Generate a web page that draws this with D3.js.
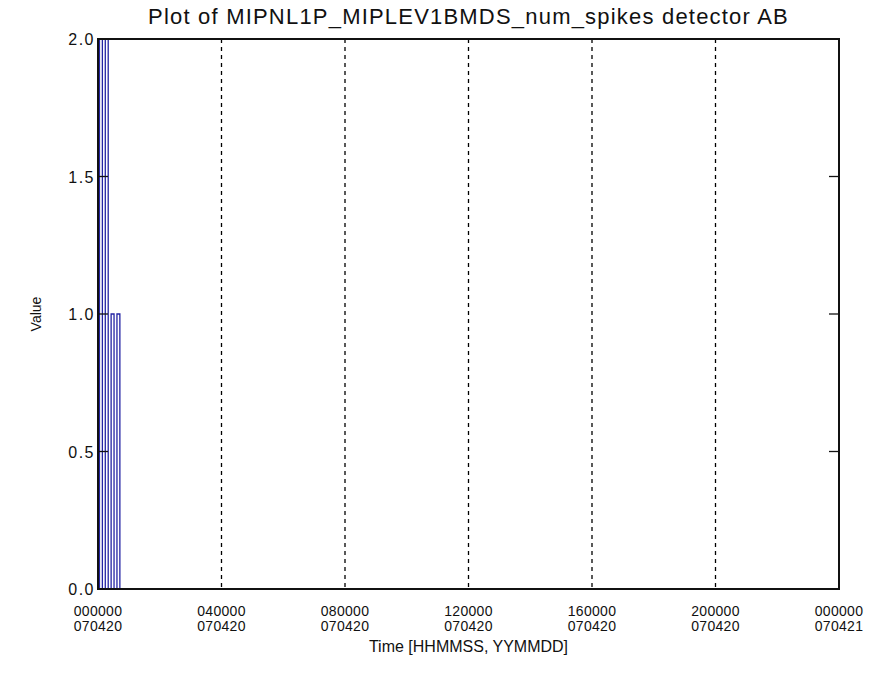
<!DOCTYPE html>
<html>
<head>
<meta charset="utf-8">
<script src="https://cdn.jsdelivr.net/npm/d3@7"></script>
<style>
body { margin: 0; background: #fff; }
text { font-family: "Liberation Sans", Arial, sans-serif; fill: #111; }
</style>
</head>
<body>
<script>
// seconds since 000000 070420, one sample every ~340 s
const times = [0, 340, 680, 1020, 1360, 1700, 2040, 2380, 2720, 3060, 3400]
const values = [0, 2, 0, 2, 0, 1, 0, 1, 0, 0, 0]
const yTicks = [0, 0.5, 1.0, 1.5, 2.0]
const xTicks = [0, 14400, 28800, 43200, 57600, 72000, 86400]
const xTickTimes = ['000000', '040000', '080000', '120000', '160000', '200000', '000000']
const xTickDays = ['070420', '070420', '070420', '070420', '070420', '070420', '070421']

const data = times.map((t, i) => ({t: t, v: values[i]}))

const svg = d3.select('body').append('svg')
  .attr('width', 889)
  .attr('height', 687)

const margin = {top: 39, right: 50, bottom: 98, left: 98}
const width = 889 - margin.left - margin.right
const height = 687 - margin.top - margin.bottom

const x = d3.scaleLinear().domain([0, 86400]).range([0, width])
const y = d3.scaleLinear().domain([0, 2]).range([height, 0])

const g = svg.append('g').attr('transform', `translate(${margin.left},${margin.top})`)

// dashed grid lines at interior time ticks
g.selectAll('.grid')
  .data(xTicks.slice(1, -1))
  .enter()
  .append('line')
  .attr('x1', (d) => x(d))
  .attr('x2', (d) => x(d))
  .attr('y1', 0)
  .attr('y2', height)
  .attr('stroke', '#000')
  .attr('stroke-width', 1.3)
  .attr('stroke-dasharray', '4,4')

// data as a step line
const line = d3.line()
  .x((d) => x(d.t))
  .y((d) => y(d.v))
  .curve(d3.curveStep)

g.append('path')
  .datum(data)
  .attr('fill', 'none')
  .attr('stroke', '#2424a4')
  .attr('stroke-width', 1.3)
  .attr('d', line)

// frame
g.append('rect')
  .attr('width', width)
  .attr('height', height)
  .attr('fill', 'none')
  .attr('stroke', '#111')
  .attr('stroke-width', 2)

// y ticks on both sides
g.selectAll('.ytl')
  .data(yTicks.slice(1, -1))
  .enter()
  .append('line')
  .attr('x1', 0).attr('x2', 10)
  .attr('y1', (d) => y(d)).attr('y2', (d) => y(d))
  .attr('stroke', '#111').attr('stroke-width', 1.3)

g.selectAll('.ytr')
  .data(yTicks.slice(1, -1))
  .enter()
  .append('line')
  .attr('x1', width - 10).attr('x2', width)
  .attr('y1', (d) => y(d)).attr('y2', (d) => y(d))
  .attr('stroke', '#111').attr('stroke-width', 1.3)

g.selectAll('.ylab')
  .data(yTicks)
  .enter()
  .append('text')
  .attr('x', -3)
  .attr('y', (d) => y(d) + 6)
  .attr('text-anchor', 'end')
  .attr('font-size', 16)
  .attr('letter-spacing', 1.5)
  .text((d) => d3.format('.1f')(d))

g.selectAll('.xlab1')
  .data(xTicks)
  .enter()
  .append('text')
  .attr('x', (d) => x(d))
  .attr('y', height + 27)
  .attr('text-anchor', 'middle')
  .attr('font-size', 14)
  .attr('letter-spacing', 0.3)
  .text((d, i) => xTickTimes[i])

g.selectAll('.xlab2')
  .data(xTicks)
  .enter()
  .append('text')
  .attr('x', (d) => x(d))
  .attr('y', height + 42)
  .attr('text-anchor', 'middle')
  .attr('font-size', 14)
  .attr('letter-spacing', 0.3)
  .text((d, i) => xTickDays[i])

g.append('text')
  .attr('x', width / 2)
  .attr('y', height + 63)
  .attr('text-anchor', 'middle')
  .attr('font-size', 16)
  .text('Time [HHMMSS, YYMMDD]')

g.append('text')
  .attr('transform', `translate(-57,${height / 2}) rotate(-90)`)
  .attr('text-anchor', 'middle')
  .attr('font-size', 14)
  .text('Value')

svg.append('text')
  .attr('x', margin.left + width / 2)
  .attr('y', 24)
  .attr('text-anchor', 'middle')
  .attr('font-size', 22)
  .attr('letter-spacing', 1.2)
  .text('Plot of MIPNL1P_MIPLEV1BMDS_num_spikes detector AB')
</script>
</body>
</html>
